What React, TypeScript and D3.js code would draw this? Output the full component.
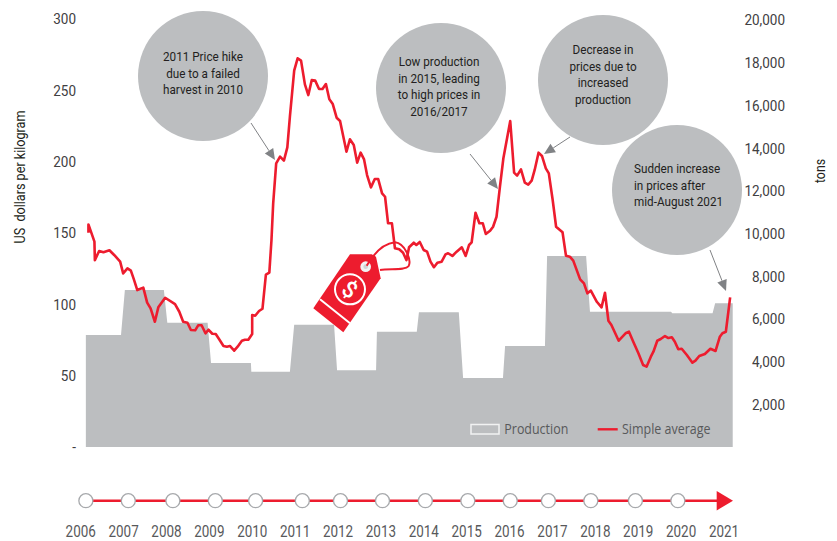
import React, { useEffect, useRef } from "react";
import * as d3 from "d3";

// Simple average price, US$/kg
const priceYears = [
  2006.08, 2006.08, 2006.22, 2006.23, 2006.33, 2006.43, 2006.57, 2006.68, 2006.82, 2006.89, 2006.99, 2007.07, 2007.14, 2007.22, 2007.36, 2007.45, 2007.53, 2007.63, 2007.71, 2007.87,
  2008.1, 2008.2, 2008.29, 2008.39, 2008.47, 2008.57, 2008.64, 2008.72, 2008.81, 2008.88, 2008.97, 2009.05, 2009.13, 2009.23, 2009.31, 2009.38, 2009.48, 2009.56, 2009.66, 2009.73, 2009.81, 2009.9, 2009.9, 2009.97,
  2010.06, 2010.14, 2010.22, 2010.3, 2010.35, 2010.39, 2010.46, 2010.55, 2010.64, 2010.72, 2010.78, 2010.88, 2010.96, 2011.04, 2011.13, 2011.21, 2011.29, 2011.37, 2011.46, 2011.54, 2011.62, 2011.7, 2011.78, 2011.87, 2011.95,
  2012.1, 2012.18, 2012.27, 2012.35, 2012.43, 2012.51, 2012.58, 2012.67, 2012.76, 2012.84, 2012.93, 2013, 2013.07, 2013.16, 2013.23, 2013.33, 2013.42, 2013.5, 2013.56, 2013.67, 2013.73, 2013.81, 2013.9, 2013.98,
  2014.06, 2014.14, 2014.22, 2014.32, 2014.41, 2014.47, 2014.57, 2014.67, 2014.79, 2014.88, 2014.96, 2015.02, 2015.11, 2015.2, 2015.28, 2015.35, 2015.45, 2015.52, 2015.6, 2015.68, 2015.76, 2015.92,
  2016.01, 2016.08, 2016.17, 2016.26, 2016.34, 2016.42, 2016.49, 2016.58, 2016.66, 2016.75, 2016.82, 2016.91, 2016.99, 2017.14, 2017.22, 2017.31, 2017.39, 2017.55, 2017.64, 2017.72, 2017.8, 2017.94,
  2018.05, 2018.13, 2018.21, 2018.28, 2018.45, 2018.61, 2018.69, 2018.79, 2018.91, 2019.02, 2019.1, 2019.2, 2019.26, 2019.35, 2019.43, 2019.53, 2019.61, 2019.69, 2019.76, 2019.84, 2019.92,
  2020.04, 2020.17, 2020.24, 2020.33, 2020.46, 2020.59, 2020.71, 2020.81, 2020.87, 2020.95, 2021.05,
];
const priceValues = [
  150.2, 156, 144, 131, 137.4, 136.5, 137.9, 134.6, 129.9, 121.7, 125.2, 123.6, 117.5, 110, 111.7, 101.2, 97.2, 87.8, 97.9, 104.6,
  100.2, 94.8, 87.8, 87.1, 82, 81.8, 85.3, 85.3, 79.7, 82.2, 79.4, 79.2, 75.5, 70.8, 70.3, 70.8, 67.5, 70.3, 74.5, 75.2, 75.2, 79.2, 92.5, 92,
  95.3, 96.9, 120.8, 122.2, 145, 170.8, 198.8, 203.5, 200.7, 210, 231.5, 263.8, 272.4, 270.8, 254.2, 246.7, 257.2, 256.8, 250.9, 250.9, 254.4, 243.7, 240.4, 230.8, 228.5,
  207, 215.7, 211.7, 199.3, 206.3, 201.6, 190.6, 182, 187.8, 187.8, 177.8, 175.4, 156.8, 156.8, 139.3, 138.6, 136.2, 131, 140, 143.2, 141.6, 143.7, 138.1, 136.9,
  129.9, 126, 129.2, 129.9, 135, 135.8, 133.9, 136.9, 140, 133.9, 141.6, 143.5, 164.2, 156.8, 156.8, 149.3, 151.6, 154.4, 161.4, 182.5, 202.4, 228.5,
  192.3, 190.2, 194.6, 185.3, 183.9, 186.7, 194.2, 206.3, 204, 195.3, 191.8, 173.1, 154.4, 150.5, 134.1, 133.4, 130.6, 117.5, 114.7, 107.7, 109.6, 101.8,
  97.9, 108.1, 88.5, 85.5, 74.5, 79.7, 80.8, 73.8, 65.7, 57.5, 56.3, 63.3, 66.8, 74.5, 75.7, 77.8, 76.4, 76.9, 73.8, 68.5, 68.9,
  64.5, 59.1, 60.5, 63.8, 65.2, 68.9, 67.3, 77.3, 79.7, 80.8, 104.9,
];

// Production plateaus, tons
const productionFrom = [2006.02, 2006.93, 2007.92, 2008.94, 2009.88, 2010.88, 2011.88, 2012.81, 2013.79, 2014.82, 2015.8, 2016.78, 2017.78, 2018.74, 2019.7, 2020.7];
const productionTo = [2006.84, 2007.84, 2008.86, 2009.87, 2010.78, 2011.81, 2012.79, 2013.74, 2014.72, 2015.75, 2016.73, 2017.69, 2018.73, 2019.67, 2020.64, 2021.11];
const productionTons = [5246, 7354, 5820, 3934, 3530, 5730, 3600, 5400, 6310, 3230, 4730, 8946, 6340, 6340, 6270, 6730];

const leftTicks = [0, 50, 100, 150, 200, 250, 300];
const rightTicks = [2000, 4000, 6000, 8000, 10000, 12000, 14000, 16000, 18000, 20000];
const yearLabels = d3.range(2006, 2022);
const timelineDots = [2006.02, 2007.01, 2008.05, 2009.04, 2009.98, 2011.07, 2011.96, 2012.94, 2013.94, 2014.93, 2015.92, 2016.81, 2017.8, 2018.84, 2019.83];

const bubbles = [
  { cx: 203, cy: 76, lines: ["2011 Price hike", "due to a failed", "harvest in 2010"], tx: 203, ty: 61, anchor: "middle" },
  { cx: 441, cy: 88, lines: ["Low production", "in 2015, leading", "to high prices in", "2016/2017"], tx: 439, ty: 66, anchor: "middle" },
  { cx: 603, cy: 80, lines: ["Decrease in", "prices due to", "increased", "production"], tx: 603, ty: 54, anchor: "middle" },
  { cx: 677, cy: 190, lines: ["Sudden increase", "in prices after", "mid-August 2021"], tx: 634, ty: 173, anchor: "start" },
];
const arrows = [
  [251, 123, 275, 160],
  [470, 154, 498, 189],
  [570, 137, 544, 154],
  [710, 250, 726, 291],
];

const RED = "#ed1c2e";
const GREY = "#bcbec0";
const INK = "#414042";
const FONT = "Roboto, sans-serif";

// the reference font is a narrow one: squeeze the glyphs of each text by k
function condense(sel: any, k: number) {
  sel.each(function (this: SVGTextElement) {
    this.setAttribute("textLength", String(this.getComputedTextLength() * k));
    this.setAttribute("lengthAdjust", "spacingAndGlyphs");
  });
}

export default function App() {
  const ref = useRef<SVGSVGElement>(null);

  useEffect(() => {
    const svg = d3.select(ref.current);
    svg.selectAll("*").remove();

    const x = d3.scaleLinear().domain([2006, 2021]).range([85, 728]);
    const yLeft = d3.scaleLinear().domain([0, 300]).range([447, 19]);
    const yRight = d3.scaleLinear().domain([0, 20000]).range([447, 20]);

    // production, plateaus joined by short slopes
    const prodPoints: [number, number][] = [];
    productionTons.forEach((t, i) => {
      prodPoints.push([productionFrom[i], t], [productionTo[i], t]);
    });
    const prodArea = d3.area<[number, number]>()
      .x(d => x(d[0]))
      .y0(yRight(0))
      .y1(d => yRight(d[1]));
    svg.append("path").attr("d", prodArea(prodPoints)).attr("fill", GREY);

    // axes
    const left = svg.append("g")
      .attr("transform", "translate(76,0)")
      .call(d3.axisLeft(yLeft).tickValues(leftTicks).tickSize(0).tickPadding(0).tickFormat(d => (+d === 0 ? "-" : String(d))));
    const right = svg.append("g")
      .attr("transform", "translate(785,0)")
      .call(d3.axisRight(yRight).tickValues(rightTicks).tickSize(0).tickPadding(0).tickFormat(d3.format(",")));
    right.selectAll("text").attr("text-anchor", "end");
    [left, right].forEach(g => {
      g.select(".domain").remove();
      g.selectAll("text").style("font-size", "15.5px").style("font-family", FONT).attr("fill", INK);
      condense(g.selectAll("text"), 0.87);
    });

    const yTitle = svg.append("text").attr("transform", "translate(24.5,177) rotate(-90)")
      .attr("text-anchor", "middle").style("font-size", "14px").style("font-family", FONT).style("white-space", "pre").attr("fill", "#231f20")
      .text("US  dollars per kilogram");
    condense(yTitle, 0.9);
    const tonsTitle = svg.append("text").attr("transform", "translate(825,171) rotate(-90)")
      .attr("text-anchor", "middle").style("font-size", "14px").style("font-family", FONT).attr("fill", "#231f20")
      .text("tons");
    condense(tonsTitle, 0.88);

    // callouts
    bubbles.forEach(b => {
      svg.append("circle").attr("cx", b.cx).attr("cy", b.cy).attr("r", 65).attr("fill", GREY);
      b.lines.forEach((l, i) => {
        const t = svg.append("text").attr("x", b.tx).attr("y", b.ty + i * 16.7)
          .attr("text-anchor", b.anchor).style("font-size", "13px").style("font-family", FONT).attr("fill", "#231f20")
          .text(l);
        condense(t, 0.9);
      });
    });

    // tag
    const tag = svg.append("g").attr("transform", "translate(300,210) scale(0.3333)");
    tag.append("path").attr("d", "M150,133 L215,133 L228,140 L242,205 L130,367 L40,295 Z").attr("fill", RED);
    tag.append("path").attr("d", "M60,268 L150,340").attr("stroke", "#fff").attr("stroke-width", 6);
    tag.append("circle").attr("cx", 197).attr("cy", 170).attr("r", 16).attr("fill", "#f1f2f2");
    tag.append("circle").attr("cx", 197).attr("cy", 170).attr("r", 7).attr("fill", "#d1d3d4");
    tag.append("circle").attr("cx", 150).attr("cy", 238).attr("r", 45).attr("fill", "none").attr("stroke", "#fff").attr("stroke-width", 6);
    tag.append("text").attr("transform", "translate(150,238) rotate(35)").attr("text-anchor", "middle").attr("dy", "0.36em")
      .style("font-size", "68px").style("font-family", FONT).style("font-weight", 500).attr("fill", "#fff").text("$");

    // price line
    const line = d3.line<number>().x((_, i) => x(priceYears[i])).y(d => yLeft(d));
    svg.append("path").attr("d", line(priceValues)).attr("fill", "none")
      .attr("stroke", RED).attr("stroke-width", 2.6).attr("stroke-linejoin", "round");

    // tag string, above the line
    tag.append("path").attr("d", "M200,167 C225,125 255,100 285,97 C315,100 335,150 326,168 C315,182 270,175 240,180")
      .attr("fill", "none").attr("stroke", RED).attr("stroke-width", 6);
    tag.raise();

    // arrows
    arrows.forEach(([x1, y1, x2, y2]) => {
      const a = Math.atan2(y2 - y1, x2 - x1);
      const bx = x2 - 11 * Math.cos(a);
      const by = y2 - 11 * Math.sin(a);
      svg.append("line").attr("x1", x1).attr("y1", y1).attr("x2", bx).attr("y2", by).attr("stroke", "#808285").attr("stroke-width", 1);
      const px = 5 * Math.sin(a);
      const py = 5 * Math.cos(a);
      svg.append("polygon")
        .attr("points", `${x2},${y2} ${bx + px},${by - py} ${bx - px},${by + py}`)
        .attr("fill", "#808285");
    });

    // legend
    svg.append("rect").attr("x", 471).attr("y", 424.5).attr("width", 28).attr("height", 9.5)
      .attr("fill", GREY).attr("stroke", "#f1f2f2").attr("stroke-width", 1.5);
    svg.append("line").attr("x1", 597.7).attr("x2", 617.7).attr("y1", 429.3).attr("y2", 429.3).attr("stroke", RED).attr("stroke-width", 2.4);
    [["Production", 504.3, 64], ["Simple average", 622, 88.5]].forEach(([t, lx, w]) => {
      svg.append("text").attr("x", lx).attr("y", 434).attr("textLength", w).attr("lengthAdjust", "spacingAndGlyphs")
        .style("font-size", "14.5px").style("font-family", "'Open Sans', sans-serif").attr("fill", "#58595b").text(String(t));
    });

    // timeline
    svg.append("line").attr("x1", x(2006)).attr("x2", 720).attr("y1", 500.7).attr("y2", 500.7).attr("stroke", RED).attr("stroke-width", 2.4);
    svg.append("path").attr("d", "M716.7,491 L733,500.7 L716.7,510.4 Z").attr("fill", RED);
    svg.selectAll("circle.dot").data(timelineDots).enter().append("circle")
      .attr("class", "dot").attr("cx", d => x(d)).attr("cy", 500.7).attr("r", 7)
      .attr("fill", "#fff").attr("stroke", "#a7a9ac").attr("stroke-width", 1.3);
    const labelX = d3.scaleLinear().domain([2006, 2021]).range([80.7, 724]);
    const years = svg.selectAll("text.year").data(yearLabels).enter().append("text")
      .attr("class", "year").attr("x", d => labelX(d)).attr("y", 537).attr("text-anchor", "middle")
      .style("font-size", "16px").style("font-family", FONT).attr("fill", "#58595b").text(d => d);
    condense(years, 0.84);
  }, []);

  return <svg ref={ref} width={837} height={541} style={{ position: "absolute", left: 0, top: 0, background: "#fff" }} />;
}
